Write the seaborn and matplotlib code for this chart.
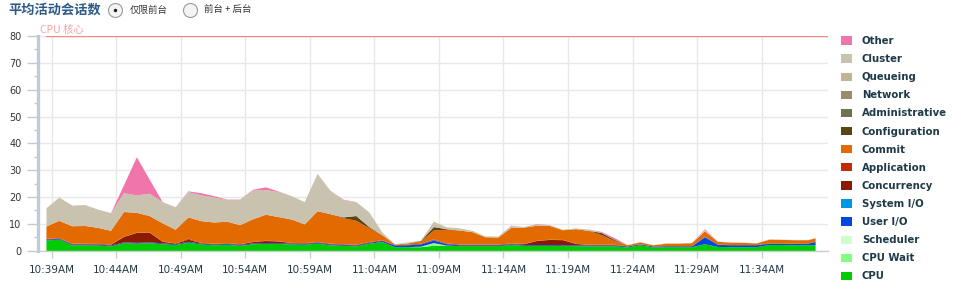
import numpy as np
import pandas as pd
import matplotlib
matplotlib.use("Agg")
import matplotlib.pyplot as plt
import matplotlib.dates as mdates
from matplotlib.patches import Patch, Ellipse
import seaborn as sns

# ---------------- data ----------------
times = pd.date_range("2024-01-01 10:38:34", periods=60, freq="1min").append(
    pd.DatetimeIndex(["2024-01-01 11:38:08"]))
tick_times = pd.date_range("2024-01-01 10:39", "2024-01-01 11:34", freq="5min")

cpu = [4.0, 4.3, 2.2, 2.2, 2.1, 1.8, 3.0, 2.8, 3.0, 2.6,
       2.3, 3.2, 2.5, 2.2, 2.4, 2.0, 2.6, 2.7, 2.7, 2.5,
       2.4, 2.8, 2.2, 2.0, 1.8, 2.8, 3.4, 1.5, 1.5, 1.5,
       2.0, 2.0, 1.9, 1.9, 1.9, 1.9, 2.3, 2.0, 2.0, 2.0,
       1.9, 1.9, 1.8, 1.8, 1.8, 1.4, 2.2, 1.4, 1.5, 1.5,
       1.5, 2.6, 1.6, 1.5, 1.5, 1.5, 2.3, 2.3, 2.2, 2.2, 2.2]
cpu_wait = [0] * 29 + [0.2, 0.8, 0.1] + [0] * 29
scheduler = [0] * 30 + [0.2] + [0] * 30
user_io = ([0.3] * 26 + [0.4, 0.6, 0.7, 0.8, 1.0, 0.5] + [0.3] * 19 +
           [2.6, 0.8, 0.7, 0.7, 0.7, 0.5, 0.5, 0.5, 0.6, 1.2])
system_io = [0] * 30 + [0.1] + [0] * 20 + [0.1] + [0] * 9
concurrency = [0.2, 0.2, 0.2, 0.2, 0.2, 0.3, 2.0, 3.7, 3.6, 0.6,
               0.2, 0.8, 0.2, 0.2, 0.2, 0.2, 0.5, 0.8, 0.6, 0.2,
               0.2, 0.2, 0.2, 0.2, 0.2, 0.2, 0.2, 0.1, 0.2, 0.2,
               0.2, 0.2, 0.2, 0.2, 0.2, 0.2, 0.2, 0.3, 1.5, 1.9,
               1.9, 0.5, 0.2, 0.2, 0.2, 0.1, 0.1, 0.1, 0.1, 0.1,
               0.1, 0.1, 0.1, 0.1, 0.1, 0.1, 0.1, 0.1, 0.1, 0.1, 0.1]
application = [0.1] * 11 + [0.4] + [0.1] * 33 + [0] * 16
commit = [4.6, 6.4, 6.5, 6.6, 6.0, 5.1, 9.2, 7.4, 6.1, 6.8,
          5.1, 7.9, 8.1, 7.9, 8.0, 7.1, 8.4, 9.7, 9.0, 8.7,
          7.0, 11.5, 11.0, 9.7, 8.9, 5.2, 1.9, 0.2, 0.4, 0.8,
          3.3, 5.1, 5.2, 4.6, 2.7, 2.6, 5.8, 6.1, 5.6, 5.1,
          3.6, 5.4, 5.2, 3.6, 1.4, 0.4, 0.7, 0.4, 0.9, 0.9,
          1.1, 2.0, 1.0, 0.9, 0.8, 0.6, 1.4, 1.3, 1.3, 1.2, 1.3]
configuration = ([0] * 23 + [0.3, 1.8, 0.4] + [0] * 3 + [0.2, 1.3, 0.2] +
                 [0] * 11 + [0.8, 0.4] + [0] * 16)
administrative = [0] * 61
network = [0] * 61
queueing = [0] * 61
cluster = [6.8, 8.7, 7.7, 7.8, 6.8, 6.6, 7.0, 6.5, 8.3, 7.9,
           8.4, 9.4, 9.6, 9.3, 8.0, 9.6, 10.8, 9.2, 9.3, 8.7,
           8.3, 13.9, 8.7, 6.4, 5.2, 5.5, 1.0, 0.1, 0.4, 0.1,
           2.0, 0.7, 0.8, 0.5, 0.3, 0.4, 0.7, 0.2, 0.4, 0.3,
           0.2, 0.3, 0.5, 0.1, 0.0, 0.1, 0.1, 0.1, 0.1, 0.1,
           0.1, 0.5, 0.1, 0.1, 0.1, 0.1, 0.1, 0.1, 0.1, 0.1, 0.1]
other = [0, 0, 0, 0, 0, 0, 2.9, 14.2, 5.2, 0,
         0, 0.3, 0.8, 0.5, 0.2, 0, 0.2, 1.0, 0.2, 0,
         0, 0, 0, 0.2, 0, 0, 0, 0, 0, 0,
         0, 0, 0, 0, 0, 0, 0.1, 0, 0.2, 0,
         0, 0, 0, 0.3, 0.7, 0, 0, 0, 0, 0,
         0, 0.3, 0, 0, 0, 0, 0, 0, 0, 0, 0]
cpu_cores = 80

series_names = ["CPU", "CPU Wait", "Scheduler", "User I/O", "System I/O",
                "Concurrency", "Application", "Commit", "Configuration",
                "Administrative", "Network", "Queueing", "Cluster", "Other"]
series_values = [cpu, cpu_wait, scheduler, user_io, system_io, concurrency,
                 application, commit, configuration, administrative, network,
                 queueing, cluster, other]
series_colors = ["#00CC00", "#80FF80", "#CCFFCC", "#0046E0", "#0096E6",
                 "#8B1A00", "#C42B00", "#E26A00", "#5C4610", "#717151",
                 "#9C8C6E", "#C0B493", "#C9C2AE", "#F075AA"]
y_ticks = [0, 10, 20, 30, 40, 50, 60, 70, 80]

# ---------------- figure ----------------
sns.set_theme(style="white")
plt.rcParams['font.family'] = ['DejaVu Sans', 'Noto Sans CJK SC']

W, H = 956, 286
fig = plt.figure(figsize=(W / 100, H / 100), dpi=100)
ax = fig.add_axes([38 / W, 1 - 250.7 / H, 790 / W, (250.7 - 36) / H])

ax.stackplot(times, *series_values, colors=series_colors, linewidth=0,
             zorder=2)

x_left = times[0] - pd.Timedelta(seconds=37)
x_right = times[0] + pd.Timedelta(seconds=3634)
line_df = pd.DataFrame({"t": [times[0], x_right], "v": [cpu_cores, cpu_cores]})
sns.lineplot(data=line_df, x="t", y="v", ax=ax, color="#F28A8A", lw=1.0,
             zorder=3)

ax.set_xlim(x_left, x_right)
ax.set_ylim(0, 80)
ax.set_yticks(y_ticks)
ax.set_yticks(np.arange(5, 80, 10), minor=True)
ax.set_xlabel("")
ax.set_ylabel("")
ax.set_xticks(tick_times)
ax.xaxis.set_major_formatter(mdates.DateFormatter("%I:%M%p"))

ax.grid(True, which="major", color="#E8E8E8", lw=1.0)
ax.set_axisbelow(True)
for s in ("top", "right"):
    ax.spines[s].set_visible(False)
ax.spines["left"].set_color("#BFCBD9")
ax.spines["left"].set_linewidth(2.4)
ax.spines["bottom"].set_color("#CCCCCC")
ax.spines["bottom"].set_linewidth(1.0)

ax.tick_params(axis="y", which="major", length=8, width=1, color="#BFCBD9",
               pad=4, labelsize=7, labelcolor="#333333", left=True)
ax.tick_params(axis="y", which="minor", length=3, width=1, color="#BFCBD9",
               left=True)
ax.tick_params(axis="x", which="major", length=5, width=1, color="#CCCCCC",
               pad=5, labelsize=7.5, labelcolor="#253746", bottom=True)

# header
fig.text(8 / W, 1 - 10 / H, "平均活动会话数", fontsize=9.5, fontweight="bold",
         color="#2C5A88", family=["Noto Sans CJK SC"], va="center", ha="left")
for cx, label, sel in [(115.5, "仅限前台", True), (190.5, "前台 + 后台", False)]:
    fig.add_artist(Ellipse((cx / W, 1 - 10.5 / H), 14 / W, 14 / H,
                           transform=fig.transFigure, facecolor="#F4F4F4",
                           edgecolor="#9A9A9A", lw=0.8))
    if sel:
        fig.add_artist(Ellipse((cx / W, 1 - 10.5 / H), 3.5 / W, 3.5 / H,
                               transform=fig.transFigure, facecolor="#222222",
                               edgecolor="none"))
    fig.text((cx + 14) / W, 1 - 10.5 / H, label, fontsize=6.8,
             color="#333333", family=["Noto Sans CJK SC"], va="center",
             ha="left")

fig.text(40.5 / W, 1 - 30 / H, "CPU 核心", fontsize=7.5, color="#F5A3A3",
         family=["Noto Sans CJK SC"], va="center", ha="left")

# legend
handles = [Patch(facecolor=c, edgecolor="none", label=n)
           for n, c in zip(series_names[::-1], series_colors[::-1])]
fig.legend(handles=handles, loc="upper left",
           bbox_to_anchor=(841 / W, 1 - 36 / H), frameon=False,
           prop={"weight": "bold", "size": 7.3}, labelcolor="#1E3A48",
           handlelength=1.05, handleheight=0.9, handletextpad=1.0,
           labelspacing=0.8, borderaxespad=0, borderpad=0)

fig.savefig("out.png", dpi=100)
